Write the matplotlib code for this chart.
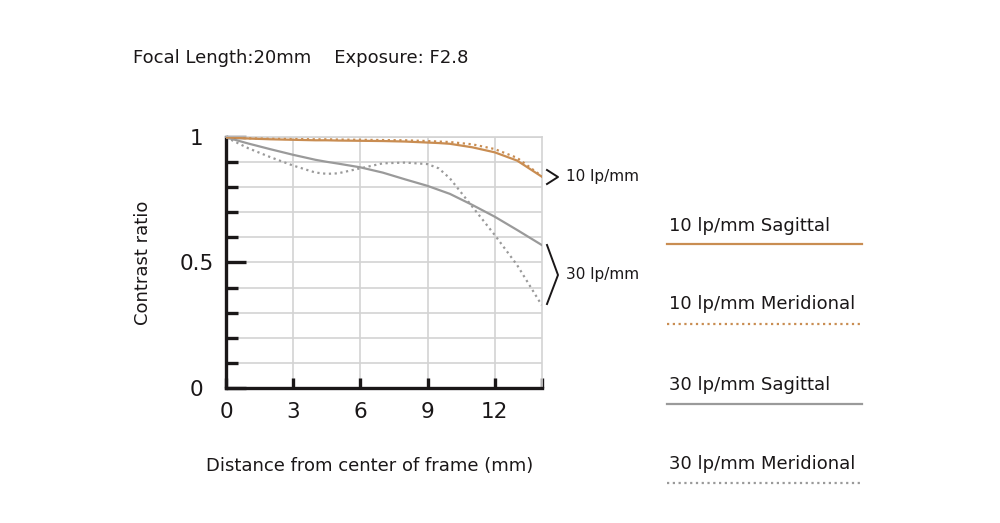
import numpy as np
import matplotlib.pyplot as plt
from matplotlib.ticker import MultipleLocator, FixedLocator

plt.rcParams['font.family'] = ['DejaVu Sans']

# distance from centre (mm) and contrast values
x_pts = [0, 1, 2, 3, 4, 4.5, 5, 6, 7, 8, 9, 9.5, 10, 11, 12, 13, 14.1]
s10 = [1.0, 0.995, 0.992, 0.99, 0.988, 0.988, 0.987, 0.986, 0.985, 0.983, 0.979, 0.977,
       0.974, 0.96, 0.94, 0.907, 0.843]
m10 = [1.0, 0.996, 0.994, 0.993, 0.992, 0.992, 0.991, 0.99, 0.989, 0.988, 0.985, 0.983,
       0.981, 0.972, 0.953, 0.918, 0.845]
s30 = [1.0, 0.975, 0.952, 0.93, 0.91, 0.902, 0.895, 0.88, 0.859, 0.832, 0.806, 0.79,
       0.774, 0.73, 0.683, 0.63, 0.57]
m30 = [1.0, 0.956, 0.92, 0.887, 0.859, 0.854, 0.856, 0.876, 0.896, 0.899, 0.893, 0.876,
       0.836, 0.723, 0.61, 0.49, 0.33]

series_names = ['10 lp/mm Sagittal', '10 lp/mm Meridional',
                '30 lp/mm Sagittal', '30 lp/mm Meridional']
x_ticks = [0, 3, 6, 9, 12]
y_ticks = [0, 0.5, 1]
y_tick_labels = ['0', '0.5', '1']

orange = '#c98d52'
gray = '#9a9a9a'
ink = '#1a1718'
dots = (0, (1, 1.6))

fig = plt.figure(figsize=(10, 5.23), dpi=100)
ax = fig.add_axes([0.226, 0.2587, 0.3157, 0.4788])

ax.plot(x_pts, m30, color=gray, lw=1.6, ls=dots, zorder=3)
ax.plot(x_pts, s30, color=gray, lw=1.6, zorder=3)
ax.plot(x_pts, m10, color=orange, lw=1.6, ls=dots, zorder=4)
ax.plot(x_pts, s10, color=orange, lw=1.6, zorder=4)

ax.set_xlim(0, 14.1)
ax.set_ylim(0, 1)

# grid
for yv in np.arange(0.1, 1.01, 0.1):
    ax.axhline(yv, color='#d3d3d3', lw=1.2, zorder=1)
for xv in x_ticks[1:]:
    ax.axvline(xv, color='#d3d3d3', lw=1.2, zorder=1)

for s in ['top', 'right']:
    ax.spines[s].set_color('#d3d3d3')
    ax.spines[s].set_linewidth(1.2)
for s in ['left', 'bottom']:
    ax.spines[s].set_color(ink)
    ax.spines[s].set_linewidth(2.4)

ax.xaxis.set_major_locator(FixedLocator(x_ticks + [14.1]))
ax.set_xticklabels([str(v) for v in x_ticks] + [''])
ax.yaxis.set_major_locator(FixedLocator(y_ticks))
ax.set_yticklabels(y_tick_labels)
ax.yaxis.set_minor_locator(MultipleLocator(0.1))
ax.tick_params(axis='x', direction='in', length=7, width=2.4, color=ink,
               labelsize=15.5, pad=10, labelcolor=ink)
ax.tick_params(axis='y', which='major', direction='in', length=14.5, width=2.4,
               color=ink, labelsize=15.5, pad=21, labelcolor=ink)
ax.tick_params(axis='y', which='minor', direction='in', length=8.5, width=2.4,
               color=ink)
for lab in ax.get_yticklabels():
    lab.set_horizontalalignment('center')

ax.set_ylabel('Contrast ratio', fontsize=13, color=ink)
ax.yaxis.set_label_coords(-0.233, 0.5)
ax.set_xlabel('Distance from center of frame (mm)', fontsize=13, color=ink)
ax.xaxis.set_label_coords(0.455, -0.276)

fig.text(0.133, 1 - 58 / 523, 'Focal Length:20mm    Exposure: F2.8', fontsize=13,
         va='center', ha='left', color=ink)

# bracket annotations on the right edge
fig.add_artist(plt.Line2D([0.547, 0.558, 0.547], [1 - 170 / 523, 1 - 177 / 523, 1 - 184 / 523],
                          color=ink, lw=1.4))
fig.text(0.566, 1 - 177 / 523, '10 lp/mm', fontsize=11, va='center', ha='left', color=ink)
fig.add_artist(plt.Line2D([0.547, 0.558, 0.547], [1 - 245 / 523, 1 - 275 / 523, 1 - 304 / 523],
                          color=ink, lw=1.4))
fig.text(0.566, 1 - 275 / 523, '30 lp/mm', fontsize=11, va='center', ha='left', color=ink)

# legend
leg_styles = [(orange, '-'), (orange, dots), (gray, '-'), (gray, dots)]
leg_text_y = [226, 304, 385, 464]
leg_line_y = [244, 324, 404, 483]
for name, (c, ls), ty, ly in zip(series_names, leg_styles, leg_text_y, leg_line_y):
    fig.text(0.669, 1 - ty / 523, name, fontsize=13, va='center', ha='left', color=ink)
    fig.add_artist(plt.Line2D([0.667, 0.862], [1 - ly / 523, 1 - ly / 523],
                              color=c, lw=1.6, ls=ls))

fig.savefig('out.png', dpi=100)
